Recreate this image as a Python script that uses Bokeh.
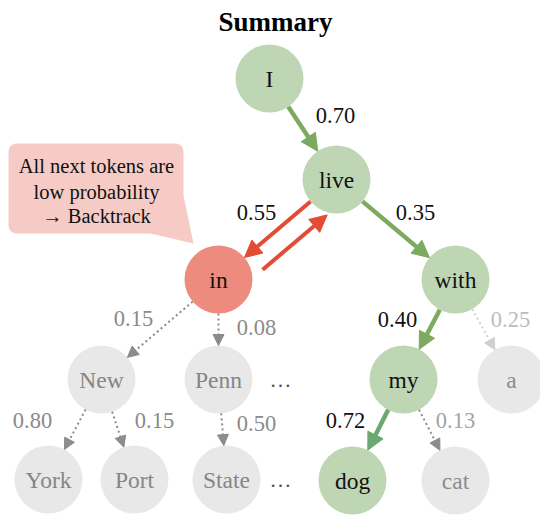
import math
from bokeh.plotting import figure
from bokeh.models import Range1d, Arrow, NormalHead, ColumnDataSource, BoxAnnotation
from bokeh.core.properties import value
from bokeh.embed import file_html
from bokeh.resources import INLINE

# ---------------- data ----------------
title_text = "Summary"
tokens = ["I", "live", "in", "with", "New", "Penn", "my", "a", "York", "Port", "State", "dog", "cat"]
parents = [None, "I", "live", "live", "in", "in", "with", "with", "New", "New", "Penn", "my", "my"]
probs = [None, 0.70, 0.55, 0.35, 0.15, 0.08, 0.40, 0.25, 0.80, 0.15, 0.50, 0.72, 0.13]
states = ["kept", "kept", "backtracked", "kept", "pruned", "pruned", "kept", "faint",
          "pruned", "pruned", "pruned", "final", "dropped"]
more_after = ["Penn", "State"]          # nodes followed by an ellipsis
callout_lines = ["All next tokens are", "low probability", "\u2192 Backtrack"]

# ---------------- layout (pixel-like data units) ----------------
node_xy = {"I": (269, 78), "live": (336, 179), "in": (218, 279), "with": (455, 279),
           "New": (101, 379), "Penn": (218, 379), "my": (403, 379), "a": (511, 379),
           "York": (48, 479), "Port": (134, 479), "State": (226, 479),
           "dog": (352, 480), "cat": (455, 480)}
label_xy = {"live": (335, 115), "in": (256, 212), "with": (415, 212), "New": (133, 318),
            "Penn": (256, 327), "my": (397, 319), "a": (510, 319), "York": (32, 420),
            "Port": (154, 420), "State": (256, 423), "dog": (345, 420), "cat": (455, 420)}
ellipsis_x = 280
R = 34
FONT = "Liberation Serif"

node_fill = {"kept": "#BED6B3", "final": "#BED6B3", "backtracked": "#EC8B7E",
             "pruned": "#E8E8E8", "faint": "#E8E8E8", "dropped": "#E8E8E8"}
node_text = {"kept": "#111111", "final": "#111111", "backtracked": "#111111",
             "pruned": "#858585", "faint": "#8C8C8C", "dropped": "#8C8C8C"}
label_col = {"kept": "#111111", "final": "#111111", "backtracked": "#111111",
             "pruned": "#8A8A8A", "faint": "#BDBDBD", "dropped": "#A3A3A3"}
edge_style = {
    "kept": dict(color="#7CAA5E", width=4.5, dash="solid", head=17),
    "final": dict(color="#6BA872", width=4.5, dash="solid", head=17),
    "backtracked": dict(color="#E34B34", width=4, dash="solid", head=17),
    "pruned": dict(color="#8C8C8C", width=2, dash="2 3", head=11),
    "dropped": dict(color="#8C8C8C", width=2, dash="2 3", head=11),
    "faint": dict(color="#D0D0D0", width=2, dash="2 3", head=11),
}

p = figure(width=540, height=516, output_backend="svg", toolbar_location=None,
           x_range=Range1d(0, 540), y_range=Range1d(516, 0), min_border=0)
p.axis.visible = False
p.grid.visible = False
p.outline_line_color = None
p.background_fill_color = "white"

# title
p.text(x=[275], y=[21], text=[title_text], text_font=value(FONT), text_font_size="27px",
       text_font_style="bold", text_align="center", text_baseline="middle", text_color="#000000")

# callout
box = BoxAnnotation(left=8, right=183, top=143, bottom=233, border_radius=8,
                    fill_color="#F6CBC5", fill_alpha=1.0, line_color=None, level="underlay")
p.add_layout(box)
p.patch(x=[183, 193, 150], y=[195, 243, 233], fill_color="#F6CBC5", line_color=None)
p.text(x=[96] * 3, y=[165, 191, 215], text=callout_lines, text_font=value(FONT),
       text_font_size="20.5px", text_align="center", text_baseline="middle", text_color="#111111")


def seg(a, b, d0, d1, off=0.0):
    (x0, y0), (x1, y1) = node_xy[a], node_xy[b]
    L = math.hypot(x1 - x0, y1 - y0)
    ux, uy = (x1 - x0) / L, (y1 - y0) / L
    nx, ny = -uy, ux
    return (x0 + ux * d0 + nx * off, y0 + uy * d0 + ny * off,
            x1 - ux * d1 + nx * off, y1 - uy * d1 + ny * off)


# edges grouped by style
groups = {}
for tok, par, st in zip(tokens, parents, states):
    if par is None:
        continue
    groups.setdefault(st, []).append(seg(par, tok, R, R))
    if st == "backtracked":
        # the step back to the parent, drawn parallel to the forward edge
        groups[st].append(seg(tok, par, 40, 30, off=21))

for st, segs in groups.items():
    s = edge_style[st]
    src = ColumnDataSource(dict(x0=[q[0] for q in segs], y0=[q[1] for q in segs],
                                x1=[q[2] for q in segs], y1=[q[3] for q in segs]))
    head = NormalHead(size=s["head"], fill_color=s["color"], line_color=s["color"], line_width=1)
    p.add_layout(Arrow(end=head, x_start="x0", y_start="y0", x_end="x1", y_end="y1",
                       source=src, line_color=s["color"], line_width=s["width"],
                       line_dash=s["dash"]))

# nodes
nsrc = ColumnDataSource(dict(
    x=[node_xy[t][0] for t in tokens], y=[node_xy[t][1] for t in tokens], text=tokens,
    fill=[node_fill[s] for s in states], tcol=[node_text[s] for s in states]))
p.circle(x="x", y="y", radius=R, fill_color="fill", line_color=None, source=nsrc)
p.text(x="x", y="y", text="text", text_color="tcol", text_font=value(FONT),
       text_font_size="23.5px", text_align="center", text_baseline="middle", source=nsrc)

# probability labels
lt = [t for t, pr in zip(tokens, probs) if pr is not None]
lsrc = ColumnDataSource(dict(
    x=[label_xy[t][0] for t in lt], y=[label_xy[t][1] for t in lt],
    text=[f"{pr:.2f}" for pr in probs if pr is not None],
    col=[label_col[s] for s, pr in zip(states, probs) if pr is not None]))
p.text(x="x", y="y", text="text", text_color="col", text_font=value(FONT),
       text_font_size="22.5px", text_align="center", text_baseline="middle", source=lsrc)

# ellipses
p.text(x=[ellipsis_x] * len(more_after), y=[node_xy[t][1] for t in more_after],
       text=["\u2026"] * len(more_after), text_color="#555555", text_font=value(FONT),
       text_font_size="22px", text_align="center", text_baseline="middle")

open("out.html", "w").write(file_html(p, INLINE))
